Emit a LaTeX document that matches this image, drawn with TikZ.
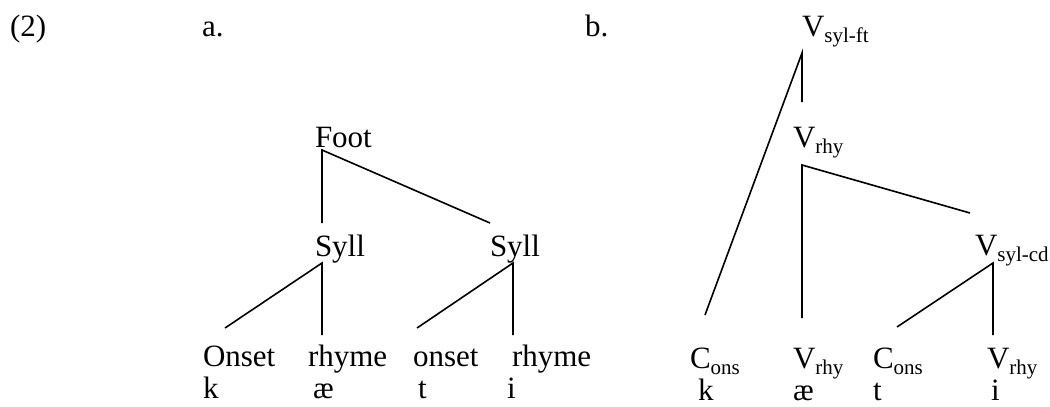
\documentclass[tikz,border=0pt]{standalone}
\usepackage{fontspec}
\setmainfont{Liberation Serif}
\newcommand{\lsub}[1]{\raisebox{-0.22em}{\fontsize{21}{21}\selectfont #1}}
\begin{document}
\begin{tikzpicture}[x=1pt,y=-1pt,
  lab/.style={anchor=base west,inner sep=0pt,outer sep=0pt,font=\fontsize{31}{31}\selectfont},
  edge/.style={line width=1.6pt,line cap=butt}]
\useasboundingbox (0,0) rectangle (1050,407);
% headings
\node[lab] (num) at (10,36) {(2)};
\node[lab] (la) at (202,36) {a.};
\node[lab] (lb) at (585,36) {b.};
% tree a
\node[lab] (foot) at (315,147) {Foot};
\node[lab] (syllL) at (315,256) {Syll};
\node[lab] (syllR) at (490,256) {Syll};
\node[lab] (on1) at (203,366) {Onset};
\node[lab] (rh1) at (308,366) {rhyme};
\node[lab] (on2) at (413,366) {onset};
\node[lab] (rh2) at (512,366) {rhyme};
\node[lab] (k1) at (203,398) {k};
\node[lab] (ae1) at (313,398) {æ};
\node[lab] (t1) at (418,398) {t};
\node[lab] (i1) at (507,398) {i};
\coordinate (footB) at (322,150);
\coordinate (syllLT) at (322,223);
\coordinate (syllRT) at (490,223);
\coordinate (syllLB) at (322,263);
\coordinate (syllRB) at (513,263);
\coordinate (on1T) at (225,328);
\coordinate (rh1T) at (322,335);
\coordinate (on2T) at (417,328);
\coordinate (rh2T) at (513,335);
\draw[edge] (syllLT) -- (footB) -- (syllRT);
\draw[edge] (on1T) -- (syllLB) -- (rh1T);
\draw[edge] (on2T) -- (syllRB) -- (rh2T);
% tree b
\node[lab] (vft) at (802,36) {V\lsub{syl-ft}};
\node[lab] (vrhy) at (793,147) {V\lsub{rhy}};
\node[lab] (vcd) at (975,255) {V\lsub{syl-cd}};
\node[lab] (c1) at (690,368) {C\lsub{ons}};
\node[lab] (v1) at (793,368) {V\lsub{rhy}};
\node[lab] (c2) at (873,368) {C\lsub{ons}};
\node[lab] (v2) at (987,368) {V\lsub{rhy}};
\node[lab] (k2) at (698,400) {k};
\node[lab] (ae2) at (793,400) {æ};
\node[lab] (t2) at (873,400) {t};
\node[lab] (i2) at (991,400) {i};
\coordinate (vftB) at (802,53);
\coordinate (vrhyT) at (802,102);
\coordinate (c1T) at (705,315);
\coordinate (vrhyB) at (802,165);
\coordinate (v1T) at (802,318);
\coordinate (vcdT) at (970,213);
\coordinate (vcdB) at (993,263);
\coordinate (c2T) at (897,327);
\coordinate (v2T) at (993,335);
\draw[edge] (c1T) -- (vftB) -- (vrhyT);
\draw[edge] (v1T) -- (vrhyB) -- (vcdT);
\draw[edge] (c2T) -- (vcdB) -- (v2T);
\end{tikzpicture}
\end{document}
